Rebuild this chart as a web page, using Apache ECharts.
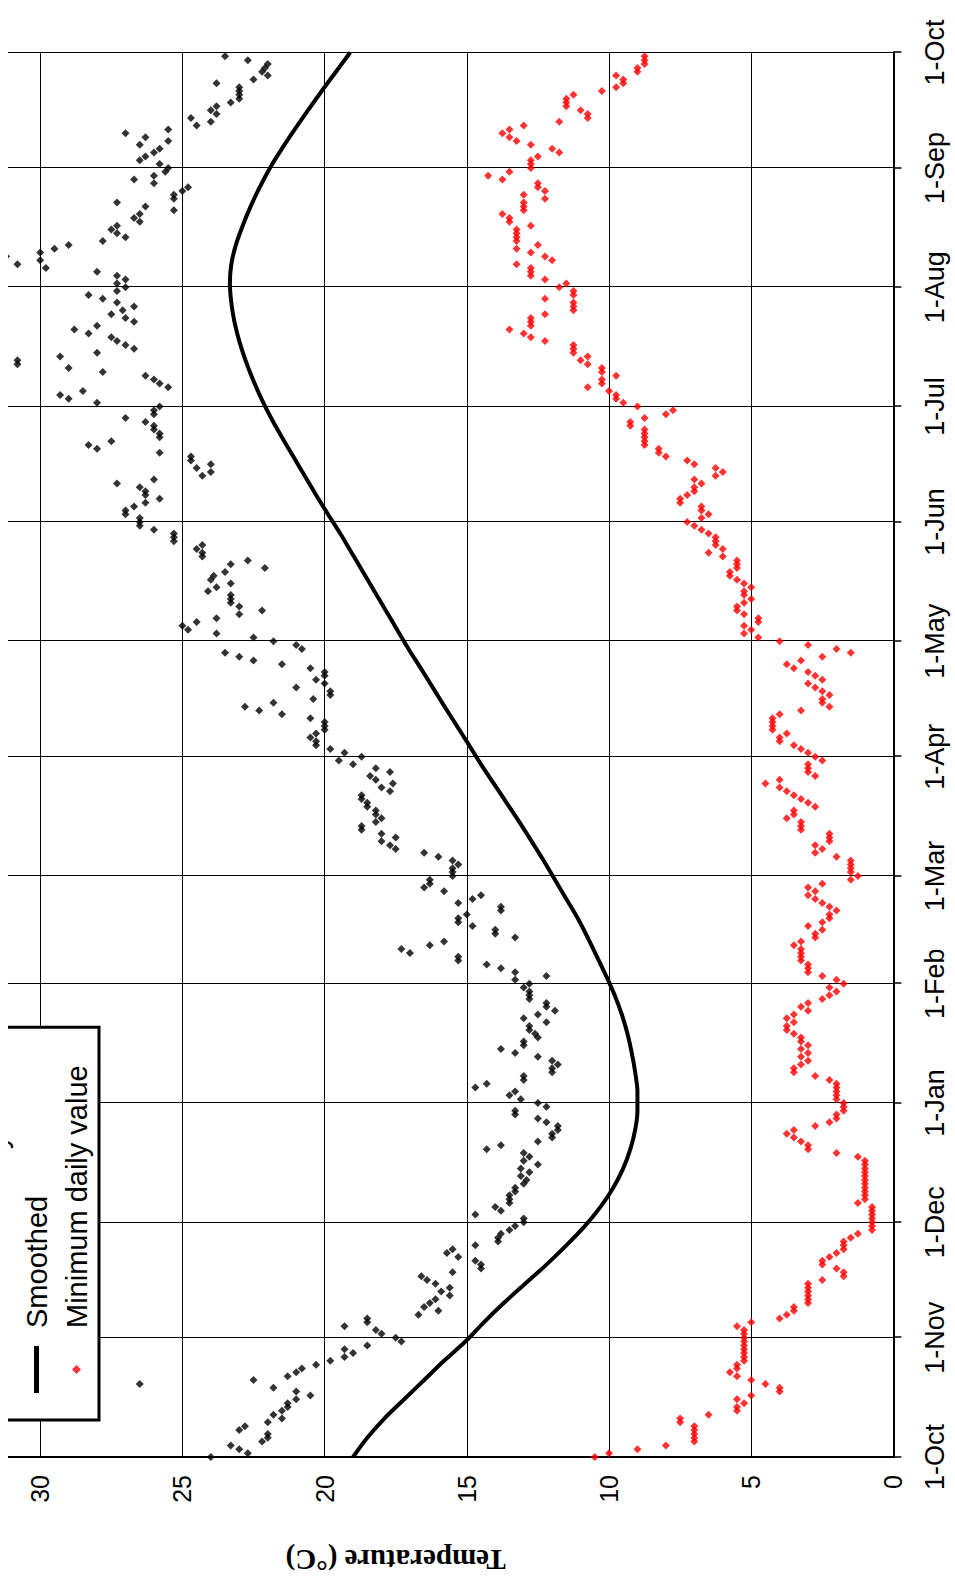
<!DOCTYPE html>
<html><head><meta charset="utf-8">
<script src="https://cdn.jsdelivr.net/npm/echarts@6/dist/echarts.min.js"></script>
<style>
html,body{margin:0;padding:0;background:#fff;overflow:hidden;width:955px;height:1583px;}
#clip{position:absolute;left:8px;top:0;width:947px;height:1583px;overflow:hidden;background:#fff;}
#chart{position:absolute;left:0;top:0;width:1583px;height:1080px;transform-origin:0 0;transform:translate(-120px,1583px) rotate(-90deg);}
</style></head>
<body><div id="clip"><div id="chart"></div></div>
<script>
// Day index counted from 1 October
const monthTicks = [0,31,61,92,123,151,182,212,243,273,304,335,365];
const monthLabels = ['1-Oct','1-Nov','1-Dec','1-Jan','1-Feb','1-Mar','1-Apr','1-May','1-Jun','1-Jul','1-Aug','1-Sep','1-Oct'];
const tempLabels = ['0','5','10','15','20','25','30'];

const maxDaily = [
24.0,22.7,23.0,23.3,22.2,22.0,22.0,23.0,22.8,22.0,
21.5,21.8,21.5,21.3,21.3,21.0,20.5,21.0,21.8,26.5,
22.5,21.3,21.0,20.8,20.3,19.8,19.3,19.0,19.3,18.5,
17.3,17.5,18.0,18.2,19.3,18.5,18.5,16.7,16.0,16.5,
16.3,16.1,15.6,15.9,15.6,16.1,16.4,16.6,15.5,14.5,
14.5,14.7,15.3,15.7,15.5,14.7,13.9,13.9,13.8,13.5,
13.3,13.0,13.0,14.7,13.8,14.0,13.5,13.5,13.5,13.3,
13.3,13.0,12.9,13.1,12.8,13.1,12.5,13.0,12.8,13.0,
14.3,13.8,12.5,12.0,12.0,11.8,11.8,12.2,12.5,13.3,
13.3,12.2,12.5,13.1,13.5,13.3,14.7,14.3,13.0,13.0,
12.0,12.0,11.8,12.0,12.5,13.3,13.8,13.0,13.0,12.5,
12.6,12.8,12.8,12.2,13.0,12.5,11.9,12.2,12.2,12.8,
12.8,12.8,13.0,12.8,13.3,12.2,13.3,13.8,14.3,15.3,
15.3,17.0,17.3,16.3,15.8,13.3,14.0,14.0,14.8,15.3,
15.3,15.0,13.8,13.8,15.3,14.8,14.5,15.8,16.5,16.3,
16.3,15.5,15.5,15.5,15.3,15.5,16.0,16.5,17.5,17.7,
18.0,17.5,18.0,18.7,18.7,18.2,18.0,18.2,18.2,18.5,
18.5,18.7,18.7,17.7,18.0,17.6,18.2,18.4,17.7,18.2,
19.0,19.5,18.7,19.3,19.8,20.3,20.3,20.5,20.3,20.0,
20.0,20.0,20.5,21.5,22.3,22.8,21.8,20.4,19.8,19.8,
21.0,20.0,20.3,20.0,20.0,20.5,21.5,22.5,23.0,23.5,
20.8,21.0,21.8,22.5,23.8,24.8,25.0,24.5,23.8,23.0,
22.2,23.0,23.3,23.3,23.3,24.1,23.8,23.3,24.0,23.9,
23.5,22.1,23.3,22.7,24.3,24.3,24.5,24.3,25.3,25.3,
25.3,26.0,26.5,26.5,26.5,27.0,27.0,26.7,26.3,25.8,
26.3,26.3,26.5,27.3,26.0,24.3,24.0,24.5,24.0,24.7,
24.7,25.8,28.0,28.3,27.5,25.8,25.8,26.0,26.0,26.3,
27.0,26.0,26.0,25.8,28.0,29.0,29.3,28.5,25.5,25.8,
26.0,26.3,27.8,29.0,30.8,30.8,29.3,28.0,26.7,27.0,
27.3,27.5,28.3,28.8,28.0,26.7,27.0,27.5,27.1,26.7,
27.3,27.8,28.3,27.3,27.0,27.3,27.0,27.3,28.0,29.8,
30.8,30.0,31.2,30.0,29.5,29.0,27.8,27.0,27.3,27.5,
27.3,26.5,26.7,26.5,25.3,26.3,27.3,25.3,25.3,25.0,
24.8,26.0,26.7,26.0,25.6,25.5,25.8,26.5,26.3,26.0,
25.8,26.5,25.5,26.3,27.0,25.5,24.5,24.0,24.7,23.8,
24.0,23.8,23.3,23.0,23.0,23.0,23.0,23.8,22.5,22.0,
22.2,22.1,22.0,22.7,23.5
];

const minDaily = [
10.5,10.0,9.0,8.0,7.0,7.0,7.0,7.0,7.0,7.5,
7.5,6.5,5.5,5.5,5.25,5.5,5.0,4.0,4.0,4.5,
5.0,5.5,5.75,5.5,5.5,5.25,5.25,5.25,5.25,5.25,
5.25,5.25,5.25,5.25,5.5,5.0,4.0,3.75,3.5,3.5,
3.0,3.0,3.0,3.0,3.0,3.0,2.5,1.75,1.75,2.0,
2.5,2.5,2.25,2.0,1.75,1.75,1.75,1.5,1.25,0.75,
0.75,0.75,0.75,0.75,0.75,0.75,1.25,1.0,1.0,1.0,
1.0,1.0,1.0,1.0,1.0,1.0,1.0,1.0,1.25,2.0,
3.0,3.0,3.25,3.5,3.75,3.5,2.75,2.25,2.0,2.0,
1.75,1.75,1.75,2.0,2.0,2.0,2.0,2.0,2.25,2.75,
3.5,3.5,3.25,3.0,3.25,3.0,3.25,3.0,3.25,3.25,
3.5,3.75,3.75,3.5,3.75,3.5,3.0,3.25,3.0,2.5,
2.25,2.0,2.25,1.75,2.0,2.5,3.0,3.0,3.0,3.25,
3.25,3.25,3.25,3.5,3.25,2.75,2.75,2.5,3.0,2.5,
2.25,2.25,2.0,2.25,2.5,2.75,3.0,2.75,3.0,2.5,
1.5,1.25,1.5,1.5,1.5,1.5,2.0,2.75,2.5,2.75,
2.25,2.25,2.25,3.25,3.25,3.25,3.75,3.5,3.5,2.75,
3.0,3.25,3.5,3.75,4.0,4.5,4.0,2.75,3.0,3.0,
3.0,2.5,2.75,3.0,3.25,3.5,4.0,4.0,3.75,4.25,
4.25,4.25,4.25,4.0,3.25,2.25,2.5,2.5,2.25,2.5,
2.75,3.0,2.5,2.75,3.0,3.5,3.75,3.25,2.5,1.5,
2.0,3.0,4.0,4.75,5.25,5.0,5.25,4.75,4.75,5.25,
5.5,5.5,5.25,5.0,5.25,5.25,5.0,5.25,5.5,5.75,
5.75,5.5,5.5,5.5,6.0,6.5,6.0,6.25,6.25,6.25,
6.5,6.75,7.0,7.25,6.75,6.5,6.75,6.75,7.5,7.5,
7.25,7.0,7.0,6.75,7.0,6.25,6.0,6.25,7.0,7.25,
8.0,8.25,8.25,8.75,8.75,8.75,8.75,8.75,9.25,9.25,
8.75,8.0,7.75,9.0,9.5,9.75,9.75,10.0,10.75,10.25,
10.25,9.75,10.25,10.25,10.75,11.0,10.75,11.25,11.25,11.25,
12.25,12.75,13.0,13.5,12.75,12.75,12.75,12.25,11.25,11.25,
11.25,12.25,11.25,11.25,11.75,11.5,12.25,12.75,12.75,12.75,
13.25,12.0,12.25,12.75,13.25,12.5,13.25,13.25,13.25,13.25,
12.75,13.5,13.5,13.75,13.0,13.0,13.0,12.25,13.0,12.25,
12.5,12.5,13.75,14.25,13.5,12.75,12.75,12.75,12.5,11.75,
12.0,12.75,13.25,13.5,13.75,13.5,13.0,11.75,10.75,10.75,
11.0,11.5,11.5,11.5,11.25,10.25,9.75,9.5,9.5,9.75,
9.0,9.0,8.75,8.75,8.75
];

// Smoothed curve, read every 5 days
const smoothDays = [
0,5,10,15,20,25,30,35,40,45,50,55,60,65,70,75,80,85,90,95,
100,105,110,115,120,125,130,135,140,145,150,155,160,165,170,175,180,185,190,195,
200,205,210,215,220,225,230,235,240,245,250,255,260,265,270,275,280,285,290,295,
300,305,310,315,320,325,330,335,340,345,350,355,360,365];
const smoothTemps = [
19.0,18.5,17.9,17.2,16.5,15.8,15.05,14.4,13.7,12.95,12.2,11.5,10.85,10.3,9.85,9.5,9.25,9.08,9.0,9.0,
9.08,9.2,9.35,9.55,9.8,10.1,10.42,10.75,11.1,11.5,11.9,12.3,12.72,13.15,13.6,14.05,14.5,14.92,15.35,15.78,
16.2,16.62,17.05,17.45,17.85,18.25,18.65,19.05,19.45,19.88,20.3,20.7,21.1,21.5,21.88,22.22,22.52,22.78,23.0,23.17,
23.28,23.33,23.28,23.12,22.88,22.6,22.28,21.92,21.5,21.05,20.58,20.1,19.6,19.1];

const tempTicks = {min: 0, max: 35, interval: 5};
const seriesNames = ['Maximum daily value', 'Smoothed', 'Minimum daily value'];

const chart = echarts.init(document.getElementById('chart'), null, {renderer: 'svg'});
const labelFor = v => { const i = monthTicks.indexOf(Math.round(v)); return i >= 0 ? monthLabels[i] : ''; };
const tempLabelFor = v => { const s = String(v); return tempLabels.indexOf(s) >= 0 ? s : ''; };

chart.setOption({
  animation: false,
  backgroundColor: '#fff',
  grid: {left: 126, right: 52.5, top: 10, height: 995.4, containLabel: false},
  xAxis: {
    type: 'value', min: 0, max: 365,
    axisLine: {show: true, onZero: false, lineStyle: {color: '#000', width: 2}},
    axisTick: {show: true, customValues: monthTicks, length: 8, lineStyle: {color: '#000', width: 1.5}},
    axisLabel: {customValues: monthTicks, formatter: labelFor, fontSize: 27, color: '#000',
      fontFamily: 'Liberation Sans', margin: 28, showMinLabel: true, showMaxLabel: true},
    splitLine: {show: true, lineStyle: {color: '#000', width: 1}}
  },
  yAxis: {
    type: 'value', min: tempTicks.min, max: tempTicks.max, interval: tempTicks.interval,
    axisLine: {show: true, lineStyle: {color: '#000', width: 2}},
    axisTick: {show: false},
    axisLabel: {fontSize: 25, color: '#000', fontFamily: 'Liberation Sans', margin: 18, formatter: tempLabelFor},
    splitLine: {show: true, lineStyle: {color: '#000', width: 1}},
    name: 'Temperature (°C)', nameLocation: 'middle', nameGap: 88, nameRotate: 90,
    nameTextStyle: {fontFamily: 'Liberation Serif', fontWeight: 'bold', fontSize: 29, color: '#000'}
  },
  legend: {
    orient: 'vertical', left: 163, top: 86,
    data: [
      {name: seriesNames[0], icon: 'path://M5,0L10,5L5,10L0,5Z'},
      {name: seriesNames[1], icon: 'path://M0,0H47V5H0Z'},
      {name: seriesNames[2], icon: 'path://M5,0L10,5L5,10L0,5Z'}
    ],
    itemWidth: 47, itemHeight: 9, itemGap: 11,
    padding: [8, 30, 8, 27],
    borderColor: '#000', borderWidth: 3, backgroundColor: '#fff',
    textStyle: {fontSize: 29, fontFamily: 'Liberation Sans', color: '#000', padding: [0, 0, 0, 13]}
  },
  series: [
    {name: seriesNames[0], type: 'scatter', symbol: 'diamond', symbolSize: 8,
     itemStyle: {color: '#000'}, data: maxDaily.map((v, i) => [i, v]), z: 3},
    {name: seriesNames[1], type: 'line', smooth: 0.3, symbol: 'none', showSymbol: false,
     lineStyle: {color: '#000', width: 4}, itemStyle: {color: '#000'},
     data: smoothDays.map((d, i) => [d, smoothTemps[i]]), z: 4},
    {name: seriesNames[2], type: 'scatter', symbol: 'diamond', symbolSize: 8,
     itemStyle: {color: '#ff0000'}, data: minDaily.map((v, i) => [i, v]), z: 3}
  ]
});
</script>
</body></html>
